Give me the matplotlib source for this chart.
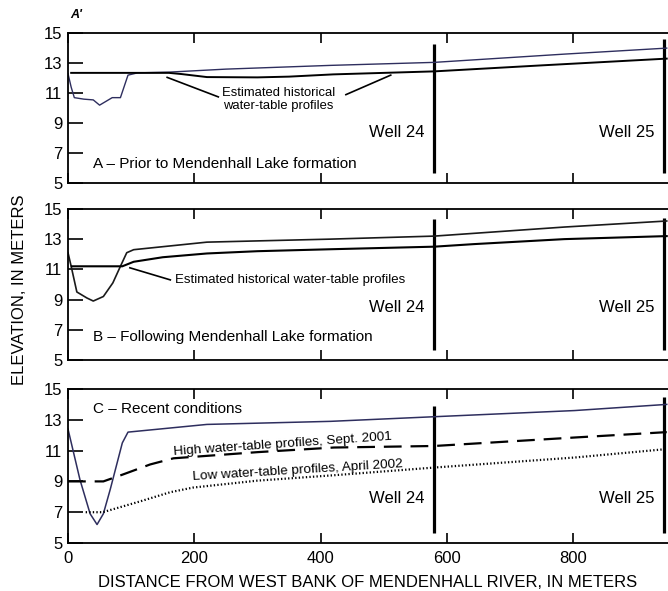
import matplotlib.pyplot as plt

plt.rcParams['font.family'] = ['Liberation Sans', 'DejaVu Sans']

# panel A - prior to lake formation
a_upper_x = [0, 5, 10, 25, 40, 50, 62, 70, 83, 95, 110, 160, 250, 416, 580, 786, 948]
a_upper_y = [12.3, 11.4, 10.7, 10.6, 10.55, 10.2, 10.5, 10.7, 10.7, 12.2, 12.35, 12.4, 12.6, 12.85, 13.05, 13.6, 14.0]
a_lower_x = [5, 160, 180, 220, 300, 350, 420, 580, 750, 948]
a_lower_y = [12.35, 12.35, 12.27, 12.07, 12.05, 12.1, 12.25, 12.45, 12.85, 13.3]

# panel B - following lake formation
b_upper_x = [0, 5, 14, 30, 40, 56, 71, 83, 93, 104, 220, 416, 580, 786, 948]
b_upper_y = [12.1, 11.2, 9.5, 9.1, 8.9, 9.2, 10.1, 11.2, 12.1, 12.3, 12.8, 13.0, 13.2, 13.8, 14.2]
b_lower_x = [6, 86, 104, 150, 220, 300, 416, 580, 643, 786, 948]
b_lower_y = [11.2, 11.2, 11.5, 11.8, 12.05, 12.2, 12.33, 12.5, 12.67, 13.0, 13.2]

# panel C - recent conditions
c_solid_x = [0, 19, 35, 46, 56, 67, 86, 95, 220, 368, 416, 580, 802, 948]
c_solid_y = [12.4, 9.1, 6.9, 6.2, 6.9, 8.5, 11.5, 12.2, 12.7, 12.85, 12.9, 13.2, 13.6, 14.0]
c_high_x = [0, 56, 87, 130, 167, 300, 421, 580, 802, 948]
c_high_y = [9.0, 9.0, 9.45, 10.1, 10.5, 10.9, 11.2, 11.3, 11.85, 12.2]
c_low_x = [28, 55, 114, 162, 198, 300, 421, 580, 802, 948]
c_low_y = [7.0, 7.0, 7.7, 8.3, 8.6, 9.05, 9.4, 9.9, 10.55, 11.1]

wells_x = [580, 944]
wells_names = ['Well 24', 'Well 25']
well_tops = [[14.3, 14.6], [14.3, 14.4], [13.9, 14.5]]
well_label_y = [8.4, 8.5, 7.9]

yticks = [5, 7, 9, 11, 13, 15]
xticks = [0, 200, 400, 600, 800]

navy = '#2e2e5e'

fig = plt.figure(figsize=(6.68, 5.91), dpi=100)
axA = fig.add_axes([0.1018, 0.690, 0.8982, 0.254])
axB = fig.add_axes([0.1018, 0.391, 0.8982, 0.2555])
axC = fig.add_axes([0.1018, 0.0812, 0.8982, 0.2606])

for i, ax in enumerate([axA, axB, axC]):
    ax.set_xlim(0, 950)
    ax.set_ylim(5, 15)
    ax.set_yticks(yticks)
    ax.set_xticks(xticks)
    ax.spines['right'].set_visible(False)
    for s in ['left', 'top', 'bottom']:
        ax.spines[s].set_linewidth(1.3)
    ax.tick_params(axis='y', direction='in', length=11, width=1.2, labelsize=12, pad=4)
    ax.tick_params(axis='x', direction='in', length=7, width=1.2, top=True, labelsize=12, pad=6)
    if i < 2:
        ax.tick_params(axis='x', labelbottom=False)
    for wx, wt, name in zip(wells_x, well_tops[i], wells_names):
        ax.plot([wx, wx], [5.65, wt], color='black', lw=2.3, solid_capstyle='butt')
        ax.text(wx - 16, well_label_y[i], name, ha='right', va='center', fontsize=12)

# A
axA.plot(a_upper_x, a_upper_y, color=navy, lw=1.0)
axA.plot(a_lower_x, a_lower_y, color='black', lw=1.4)
axA.text(40, 6.3, 'A \u2013 Prior to Mendenhall Lake formation', fontsize=11, va='center')
axA.text(333, 10.55, 'Estimated historical\nwater-table profiles', fontsize=9.4,
         ha='center', va='center', linespacing=1.1)
axA.plot([157, 238], [12.05, 10.75], color='black', lw=1.2)
axA.plot([440, 511], [10.9, 12.2], color='black', lw=1.2)

# B
axB.plot(b_upper_x, b_upper_y, color='#1a1a1a', lw=1.2)
axB.plot(b_lower_x, b_lower_y, color='black', lw=1.5)
axB.text(40, 6.5, 'B \u2013 Following Mendenhall Lake formation', fontsize=11, va='center')
axB.text(170, 10.3, 'Estimated historical water-table profiles', fontsize=9.5, va='center')
axB.plot([98, 162], [11.1, 10.3], color='black', lw=1.2)

# C
axC.plot(c_solid_x, c_solid_y, color=navy, lw=1.1)
axC.plot(c_high_x, c_high_y, color='black', lw=1.6, dashes=(8, 4))
axC.plot(c_low_x, c_low_y, color='black', lw=1.6, linestyle=(0, (0.6, 1.0)))
axC.text(40, 13.7, 'C \u2013 Recent conditions', fontsize=11, va='center')
axC.text(340, 11.4, 'High water-table profiles, Sept. 2001', fontsize=9.7,
         ha='center', va='center', rotation=4)
axC.text(363, 9.7, 'Low water-table profiles, April 2002', fontsize=9.7,
         ha='center', va='center', rotation=3.5)
axC.set_xlabel('DISTANCE FROM WEST BANK OF MENDENHALL RIVER, IN METERS', fontsize=12, labelpad=6)

fig.text(0.029, 0.51, 'ELEVATION, IN METERS', rotation=90, ha='center', va='center', fontsize=12)
fig.text(0.105, 0.975, "A'", fontsize=9, fontweight='bold', style='italic', ha='left', va='center')

fig.savefig('out.png', dpi=100)
